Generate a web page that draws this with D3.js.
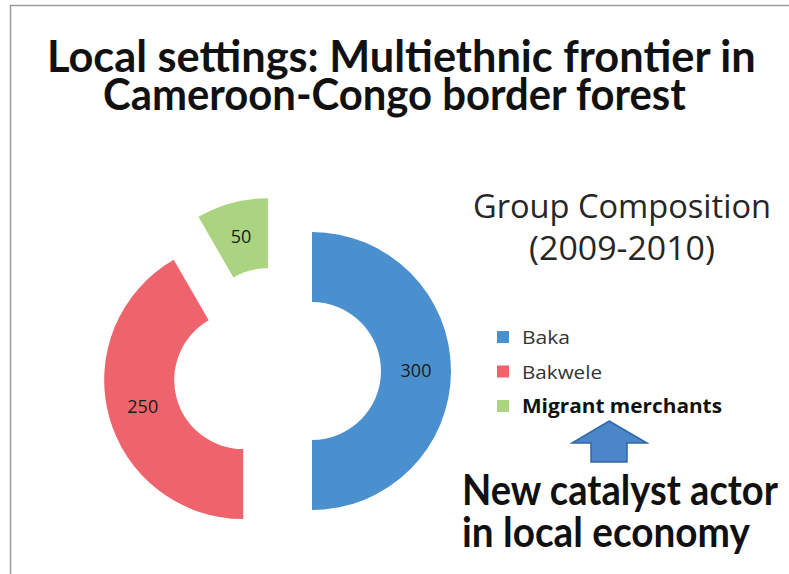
<!DOCTYPE html>
<html>
<head>
<meta charset="utf-8">
<script src="https://cdn.jsdelivr.net/npm/d3@7"></script>
<style>
  body { margin: 0; background: #fff; }
  svg { display: block; }
</style>
</head>
<body>
<div id="chart"></div>
<script>
var groups = ["Baka", "Bakwele", "Migrant merchants"];
var counts = [300, 250, 50];
var colors = ["#4A8FCE", "#EF636C", "#AAD47F"];
var titleLines = ["Local settings: Multiethnic frontier in", "Cameroon-Congo border forest"];
var chartTitle = ["Group Composition", "(2009-2010)"];
var noteLines = ["New catalyst actor", "in local economy"];

var width = 789, height = 574;
var cx = 277, cy = 371;
var inner = 69, outer = 139, explode = 35;

var svg = d3.select("#chart")
  .append("svg")
    .attr("width", width)
    .attr("height", height);

// slide frame
svg.append("path")
  .attr("d", "M10.5,574 V5.5 H789")
  .attr("fill", "none")
  .attr("stroke", "#9a9a9a")
  .attr("stroke-width", 1.5);

// squeeze a text sideways so it spans w pixels, like the narrow slide font
function fitWidth(sel, x, y, w) {
  sel.each(function(d, i) {
    var n = this.getComputedTextLength();
    d3.select(this).attr("transform",
      "translate(" + x(d, i) + "," + y(d, i) + ") scale(" + (w(d, i) / n) + ",1)");
  });
}

// main title
svg.selectAll(".title")
  .data(titleLines)
  .enter()
  .append("text")
    .attr("class", "title")
    .style("font-family", "Lato, 'Open Sans', sans-serif")
    .style("font-weight", "bold")
    .style("font-size", "43px")
    .style("fill", "#111")
    .text(function(d) { return d; })
    .call(fitWidth,
      function(d, i) { return i == 0 ? 47 : 103; },
      function(d, i) { return 72 + i * 38; },
      function(d, i) { return i == 0 ? 709 : 583; });

// doughnut, every slice pulled out a bit
var pie = d3.pie().sort(null).value(function(d) { return d; });
var arcs = pie(counts);
var arc = d3.arc().innerRadius(inner).outerRadius(outer);

function shift(d) {
  var a = (d.startAngle + d.endAngle) / 2;
  return [Math.sin(a) * explode, -Math.cos(a) * explode];
}

var donut = svg.append("g")
  .attr("transform", "translate(" + cx + "," + cy + ")");

var slice = donut.selectAll("g")
  .data(arcs)
  .enter()
  .append("g")
    .attr("transform", function(d) { return "translate(" + shift(d) + ")"; });

slice.append("path")
  .attr("d", arc)
  .style("fill", function(d, i) { return colors[i]; });

slice.append("text")
  .attr("transform", function(d) { return "translate(" + arc.centroid(d) + ")"; })
  .attr("text-anchor", "middle")
  .attr("dy", "0.35em")
  .style("font-family", "'Open Sans', sans-serif")
  .style("font-size", "18px")
  .style("fill", "#1a1a1a")
  .text(function(d) { return d.data; });

// chart title
svg.selectAll(".ctitle")
  .data(chartTitle)
  .enter()
  .append("text")
    .attr("class", "ctitle")
    .attr("x", 622)
    .attr("y", function(d, i) { return 218 + i * 42; })
    .attr("text-anchor", "middle")
    .attr("textLength", function(d, i) { return i == 0 ? 298 : 186; })
    .attr("lengthAdjust", "spacingAndGlyphs")
    .style("font-family", "'Open Sans', sans-serif")
    .style("font-size", "32px")
    .style("fill", "#262626")
    .text(function(d) { return d; });

// legend
var legendWidth = [48, 80, 200];
var legend = svg.selectAll(".legend")
  .data(groups)
  .enter()
  .append("g")
    .attr("class", "legend")
    .attr("transform", function(d, i) { return "translate(497," + (344 + i * 34.5) + ")"; });

legend.append("rect")
  .attr("y", -13)
  .attr("width", 12)
  .attr("height", 12)
  .style("fill", function(d, i) { return colors[i]; });

legend.append("text")
  .attr("x", 25)
  .style("font-family", "'Open Sans', sans-serif")
  .style("font-size", "19px")
  .style("font-weight", function(d, i) { return i == 2 ? "bold" : "normal"; })
  .style("fill", function(d, i) { return i == 2 ? "#111" : "#333"; })
  .attr("textLength", function(d, i) { return legendWidth[i]; })
  .attr("lengthAdjust", "spacingAndGlyphs")
  .text(function(d) { return d; });

// up arrow pointing at the new group
svg.append("path")
  .attr("d", "M609,421 L647,443 L627,443 L627,462 L591,462 L591,443 L572,443 Z")
  .style("fill", "#4A86C8")
  .style("stroke", "#2E67A6")
  .style("stroke-width", 1.5);

// note under the legend
svg.selectAll(".note")
  .data(noteLines)
  .enter()
  .append("text")
    .attr("class", "note")
    .style("font-family", "Lato, 'Open Sans', sans-serif")
    .style("font-weight", "bold")
    .style("font-size", "42px")
    .style("fill", "#111")
    .text(function(d) { return d; })
    .call(fitWidth,
      function() { return 462; },
      function(d, i) { return 505 + i * 42; },
      function(d, i) { return i == 0 ? 316 : 288; });
</script>
</body>
</html>
